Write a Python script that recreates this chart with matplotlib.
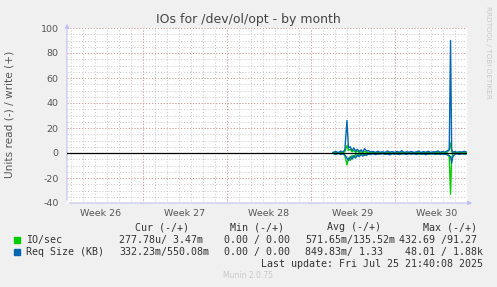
import matplotlib
matplotlib.use("Agg")
import matplotlib.pyplot as plt
import numpy as np

# ---- data (days from left edge of graph) ----
t = [22.17, 22.4, 22.6, 22.8, 23.0, 23.15, 23.33, 23.45, 23.6, 23.75,
     23.9, 24.05, 24.2, 24.35, 24.5, 24.65, 24.8, 24.95, 25.1, 25.3,
     25.5, 25.7, 25.9, 26.1, 26.3, 26.5, 26.7, 26.9, 27.1, 27.3,
     27.5, 27.7, 27.9, 28.1, 28.3, 28.5, 28.7, 28.9, 29.1, 29.3,
     29.5, 29.7, 29.9, 30.1, 30.3, 30.5, 30.7, 30.9, 31.1, 31.3,
     31.5, 31.7, 31.85, 31.96, 32.05, 32.15, 32.3, 32.5, 32.7, 32.9,
     33.1, 33.25]

req_write = [0.5, 1.2, 0.3, 1.5, 0.8, 2.5, 26, 4, 5, 2,
             4, 1.5, 3, 1, 2.5, 1, 3.5, 1.5, 2, 0.8,
             1.2, 0.5, 1.4, 0.6, 1.0, 0.4, 1.6, 0.7, 1.1, 0.5,
             1.3, 0.6, 1.8, 0.4, 1.0, 0.7, 1.2, 0.5, 0.9, 1.5,
             0.4, 1.1, 0.6, 1.4, 0.5, 1.0, 0.8, 1.6, 0.6, 1.2,
             0.7, 1.9, 2.5, 90, 3, 0.5, 1.2, 0.6, 1.0, 0.8,
             1.3, 0.9]
req_read = [-0.4, -1.0, -0.3, -1.2, -0.6, -2.0, -4, -6, -3, -5,
            -2, -4, -1.5, -3, -1, -2.5, -1, -2, -0.8, -1.2,
            -0.5, -1.3, -0.6, -0.9, -0.4, -1.1, -0.7, -1.5, -0.5, -1.0,
            -0.6, -1.3, -0.4, -0.8, -1.1, -0.5, -0.9, -0.6, -1.2, -0.4,
            -1.0, -0.7, -1.4, -0.5, -0.9, -0.6, -1.1, -0.5, -1.2, -0.8,
            -1.0, -1.5, -2, -3, -8, -3, -1.0, -0.6, -1.2, -0.5,
            -0.9, -0.7]
io_write = [0.2, 0.4, 0.1, 0.5, 0.3, 1.0, 6, 2, 3, 1,
            2, 0.5, 1.5, 0.4, 1, 0.3, 1.2, 0.5, 0.6, 0.2,
            0.4, 0.1, 0.5, 0.2, 0.3, 0.1, 0.5, 0.2, 0.4, 0.1,
            0.4, 0.2, 0.6, 0.1, 0.3, 0.2, 0.4, 0.1, 0.3, 0.5,
            0.1, 0.4, 0.2, 0.5, 0.1, 0.3, 0.2, 0.5, 0.2, 0.4,
            0.2, 0.7, 3, 8, 1, 0.2, 0.4, 0.2, 0.3, 0.2,
            0.4, 0.3]
io_read = [-0.3, -0.6, -0.2, -0.8, -0.4, -1.5, -9.5, -4, -6, -2,
           -4, -1, -2.5, -0.8, -1.5, -0.5, -2, -0.8, -1, -0.4,
           -0.6, -0.3, -0.8, -0.3, -0.5, -0.2, -0.8, -0.4, -0.6, -0.3,
           -0.7, -0.3, -0.9, -0.2, -0.5, -0.4, -0.6, -0.3, -0.5, -0.8,
           -0.2, -0.6, -0.4, -0.8, -0.3, -0.5, -0.4, -0.9, -0.3, -0.6,
           -0.4, -1.0, -3, -33, -4, -0.5, -0.8, -0.3, -0.6, -0.4,
           -0.7, -0.5]

week_labels = ["Week 26", "Week 27", "Week 28", "Week 29", "Week 30"]
week_label_pos = [2.83, 9.83, 16.83, 23.83, 30.83]
week_starts = [6.33, 13.33, 20.33, 27.33]

y_ticks = [-40, -20, 0, 20, 40, 60, 80, 100]

legend_names = ["IO/sec", "Req Size (KB)"]
legend_colors = ["#00CC00", "#0066B3"]
cur_vals = ["277.78u/ 3.47m", "332.23m/550.08m"]
min_vals = ["0.00 / 0.00", "0.00 / 0.00"]
avg_vals = ["571.65m/135.52m", "849.83m/ 1.33"]
max_vals = ["432.69 /91.27", "48.01 / 1.88k"]

W, H = 497, 287
fig = plt.figure(figsize=(W / 100, H / 100), dpi=100, facecolor="#F0F0F0")
ax = fig.add_axes([67 / W, 1 - 203 / H, 400 / W, 175 / H])
ax.set_facecolor("white")
ax.set_xlim(0, 33.33)
ax.set_ylim(-40, 100)

# grid
dots = (0, (1, 2))
for d in np.arange(0.33, 33.4, 1.0):
    ax.axvline(d, color="#C8C8C8", lw=0.7, ls=dots, zorder=0)
for v in range(-40, 101, 5):
    ax.axhline(v, color="#C8C8C8", lw=0.7, ls=dots, zorder=0)
for d in week_starts:
    ax.axvline(d, color="#E09898", lw=0.7, ls=dots, zorder=1)
for v in y_ticks:
    ax.axhline(v, color="#E09898", lw=0.7, ls=dots, zorder=1)

ax.plot(t, io_write, color="#00CC00", lw=1, zorder=2)
ax.plot(t, io_read, color="#00CC00", lw=1, zorder=2)
ax.plot(t, req_write, color="#0066B3", lw=1, zorder=3)
ax.plot(t, req_read, color="#0066B3", lw=1, zorder=3)
ax.axhline(0, color="black", lw=0.9, zorder=4)

for s in ax.spines.values():
    s.set_visible(False)

ax.set_yticks(y_ticks)
ax.set_yticklabels([str(v) for v in y_ticks])
ax.set_xticks(week_label_pos)
ax.set_xticklabels(week_labels)
ax.tick_params(axis="both", length=0, labelsize=6.8, labelcolor="#555555")
ax.tick_params(axis="y", pad=6)
ax.tick_params(axis="x", pad=4)

# axis arrows
acol = "#C0C0F0"
ax.annotate("", xy=(0, 1.04), xytext=(0, 0), xycoords="axes fraction",
            arrowprops=dict(arrowstyle="-|>", color=acol, lw=0.8,
                            mutation_scale=6), annotation_clip=False)
ax.annotate("", xy=(1.02, 0), xytext=(0, 0), xycoords="axes fraction",
            arrowprops=dict(arrowstyle="-|>", color=acol, lw=0.8,
                            mutation_scale=6), annotation_clip=False)

fig.text(248 / W, 1 - 19 / H, "IOs for /dev/ol/opt - by month", ha="center",
         va="center", fontsize=9, color="#444444")
fig.text(10 / W, 1 - 114 / H, "Units read (-) / write (+)", rotation=90,
         ha="center", va="center", fontsize=7.6, color="#555555")
fig.text(488 / W, 1 - 52 / H, "RRDTOOL / TOBI OETIKER", rotation=270,
         ha="center", va="center", fontsize=5.2, color="#C8C8C8")

mono = dict(family="DejaVu Sans Mono", fontsize=7.2, color="#333333",
            va="center", ha="left")


def px(x, y):
    return x / W, 1 - y / H


for x, s in [(135, "Cur (-/+)"), (230, "Min (-/+)"), (327, "Avg (-/+)"),
             (423, "Max (-/+)")]:
    fig.text(*px(x, 227), s, **mono)

rows_y = [240, 252]
max_x = [399, 405]
for i in range(2):
    y = rows_y[i]
    fig.patches.append(plt.Rectangle(px(14, y + 3), 6 / W, 6 / H,
                                     transform=fig.transFigure,
                                     color=legend_colors[i]))
    fig.text(*px(26, y), legend_names[i], **mono)
    fig.text(*px(119, y), cur_vals[i], **mono)
    fig.text(*px(224, y), min_vals[i], **mono)
    fig.text(*px(305, y), avg_vals[i], **mono)
    fig.text(*px(max_x[i], y), max_vals[i], **mono)

fig.text(*px(483, 264), "Last update: Fri Jul 25 21:40:08 2025",
         **{**mono, "ha": "right"})
fig.text(*px(248, 276), "Munin 2.0.75", ha="center", va="center",
         fontsize=5.5, color="#C8C8C8")

fig.savefig("out.png", dpi=100, facecolor=fig.get_facecolor())
